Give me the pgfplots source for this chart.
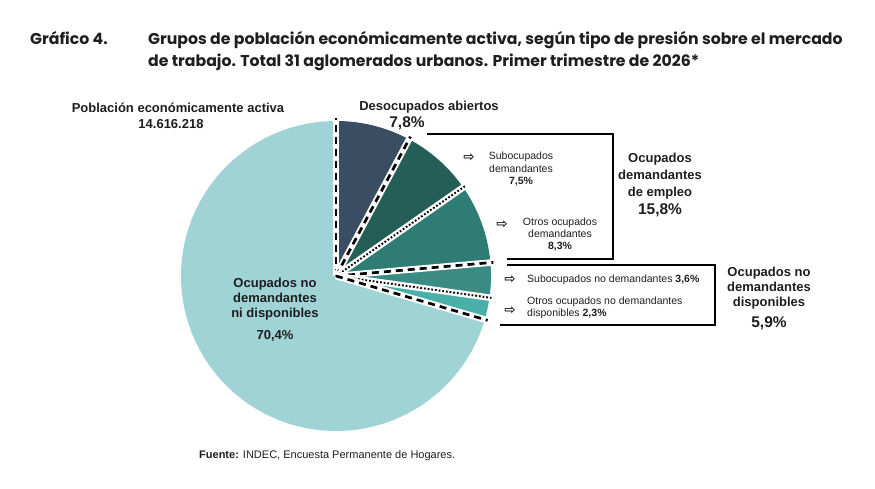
\documentclass[border=0pt]{standalone}
\usepackage{fontspec}
\setmainfont{Liberation Sans}
\newfontfamily\titlefont{Poppins}
\newfontfamily\symfont{DejaVu Sans}
\usepackage{pgfplots}
\usepackage{pgfplotstable}
\pgfplotsset{compat=1.18}
\definecolor{c1}{HTML}{3A4D62}
\definecolor{c2}{HTML}{255E56}
\definecolor{c3}{HTML}{2F7C74}
\definecolor{c4}{HTML}{398B84}
\definecolor{c5}{HTML}{4AAFA8}
\definecolor{c6}{HTML}{9FD3D6}
\definecolor{txt}{HTML}{1E1E1E}
\pgfplotstableread{
label value
Desocupados 7.8
SubDem 7.5
OtrosDem 8.3
SubNoDem 3.6
OtrosNoDem 2.3
NoDemNiDisp 70.4
}\piedata
\pgfplotstablegetelem{0}{value}\of\piedata\let\va\pgfplotsretval
\pgfplotstablegetelem{1}{value}\of\piedata\let\vb\pgfplotsretval
\pgfplotstablegetelem{2}{value}\of\piedata\let\vc\pgfplotsretval
\pgfplotstablegetelem{3}{value}\of\piedata\let\vd\pgfplotsretval
\pgfplotstablegetelem{4}{value}\of\piedata\let\ve\pgfplotsretval
\pgfplotstablegetelem{5}{value}\of\piedata\let\vf\pgfplotsretval
\pgfmathsetmacro\tot{\va+\vb+\vc+\vd+\ve+\vf}
\pgfmathsetmacro\aA{90}
\pgfmathsetmacro\aB{\aA-\va/\tot*360}
\pgfmathsetmacro\aC{\aB-\vb/\tot*360}
\pgfmathsetmacro\aD{\aC-\vc/\tot*360}
\pgfmathsetmacro\aE{\aD-\vd/\tot*360}
\pgfmathsetmacro\aF{\aE-\ve/\tot*360}
\pgfmathsetmacro\aG{\aF-\vf/\tot*360}
\newcommand\cx{336}
\newcommand\cy{213}
\newcommand\slice[3]{\fill[#1] (\cx,\cy) -- ++(#2:155pt) arc[start angle=#2, end angle=#3, radius=155pt] -- cycle;}
\newcommand\sepdash[1]{\draw[white,line width=6.5pt] (\cx,\cy) -- ++(#1:158pt);
  \draw[black,line width=2.7pt,dash pattern=on 7pt off 5pt] (\cx,\cy) -- ++(#1:158pt);}
\newcommand\sepdot[1]{\draw[white,line width=6.5pt] (\cx,\cy) -- ++(#1:157pt);
  \draw[black,line width=1.9pt,dash pattern=on 1.8pt off 1.9pt] (\cx,\cy) -- ++(#1:157pt);}
\newcommand\lbl[4][]{\node[anchor=base,inner sep=0pt,text=txt,#1] at (#2,{489-#3}) {#4};}
\tikzset{
  big/.style={font=\fontsize{13}{15}\selectfont\bfseries},
  pct/.style={font=\fontsize{15.5}{17}\selectfont\bfseries},
  small/.style={font=\fontsize{10.5}{12}\selectfont},
  ttl/.style={font=\titlefont\bfseries\fontsize{15.7}{18}\selectfont},
  arr/.style={font=\symfont\bfseries\fontsize{13.5}{14}\selectfont}
}
\begin{document}
\begin{tikzpicture}
\begin{axis}[x=1pt,y=1pt,xmin=0,xmax=875,ymin=0,ymax=489,hide axis,clip=false]
\path (0,0) rectangle (875,489);
% pie slices
\slice{c1}{\aA}{\aB}
\slice{c2}{\aB}{\aC}
\slice{c3}{\aC}{\aD}
\slice{c4}{\aD}{\aE}
\slice{c5}{\aE}{\aF}
\slice{c6}{\aF}{\aG}
% separators
\sepdash{\aA}
\sepdash{\aB}
\sepdot{\aC}
\sepdash{\aD}
\sepdot{\aE}
\sepdash{\aF}
% boxes
\draw[black,line width=1.4pt] (427,{489-134}) -- (613,{489-134}) -- (613,{489-259}) -- (507,{489-259});
\draw[black,line width=1.4pt] (507,{489-265}) -- (715,{489-265}) -- (715,{489-325}) -- (500,{489-325});
% title
\lbl[anchor=base west,ttl]{30}{45}{Gráfico 4.}
\lbl[anchor=base west,ttl]{148}{45}{Grupos de población económicamente activa, según tipo de presión sobre el mercado}
\lbl[anchor=base west,ttl]{148}{67}{de trabajo. Total 31 aglomerados urbanos. Primer trimestre de 2026*}
% PEA
\lbl[big]{178}{113}{Población económicamente activa}
\lbl[big]{171}{129}{14.616.218}
% Desocupados
\lbl[big]{429}{111}{Desocupados abiertos}
\lbl[pct]{407}{128}{7,8\%}
% box 1
\lbl[arr]{469}{162}{⇨}
\lbl[small]{521}{160}{Subocupados}
\lbl[small]{521}{173}{demandantes}
\lbl[small,font=\fontsize{10.5}{12}\selectfont\bfseries]{521}{185}{7,5\%}
\lbl[arr]{502}{229}{⇨}
\lbl[small]{560}{226}{Otros ocupados}
\lbl[small]{560}{238}{demandantes}
\lbl[small,font=\fontsize{10.5}{12}\selectfont\bfseries]{560}{250}{8,3\%}
\lbl[big]{660}{163}{Ocupados}
\lbl[big]{660}{180}{demandantes}
\lbl[big]{660}{197}{de empleo}
\lbl[pct]{660}{215}{15,8\%}
% box 2
\lbl[arr]{510}{284}{⇨}
\lbl[small,anchor=base west]{527}{283}{Subocupados no demandantes \textbf{3,6\%}}
\lbl[arr]{510}{315}{⇨}
\lbl[small,anchor=base west]{527}{305}{Otros ocupados no demandantes}
\lbl[small,anchor=base west]{527}{317}{disponibles \textbf{2,3\%}}
\lbl[big]{769}{277}{Ocupados no}
\lbl[big]{769}{292}{demandantes}
\lbl[big]{769}{307}{disponibles}
\lbl[pct]{769}{328}{5,9\%}
% big slice
\lbl[big]{275}{288}{Ocupados no}
\lbl[big]{275}{303}{demandantes}
\lbl[big]{275}{318}{ni disponibles}
\lbl[big]{275}{340}{70,4\%}
% source
\lbl[anchor=base west,font=\fontsize{11}{13}\selectfont]{199}{459}{\textbf{Fuente:} INDEC, Encuesta Permanente de Hogares.}
\end{axis}
\end{tikzpicture}
\end{document}
